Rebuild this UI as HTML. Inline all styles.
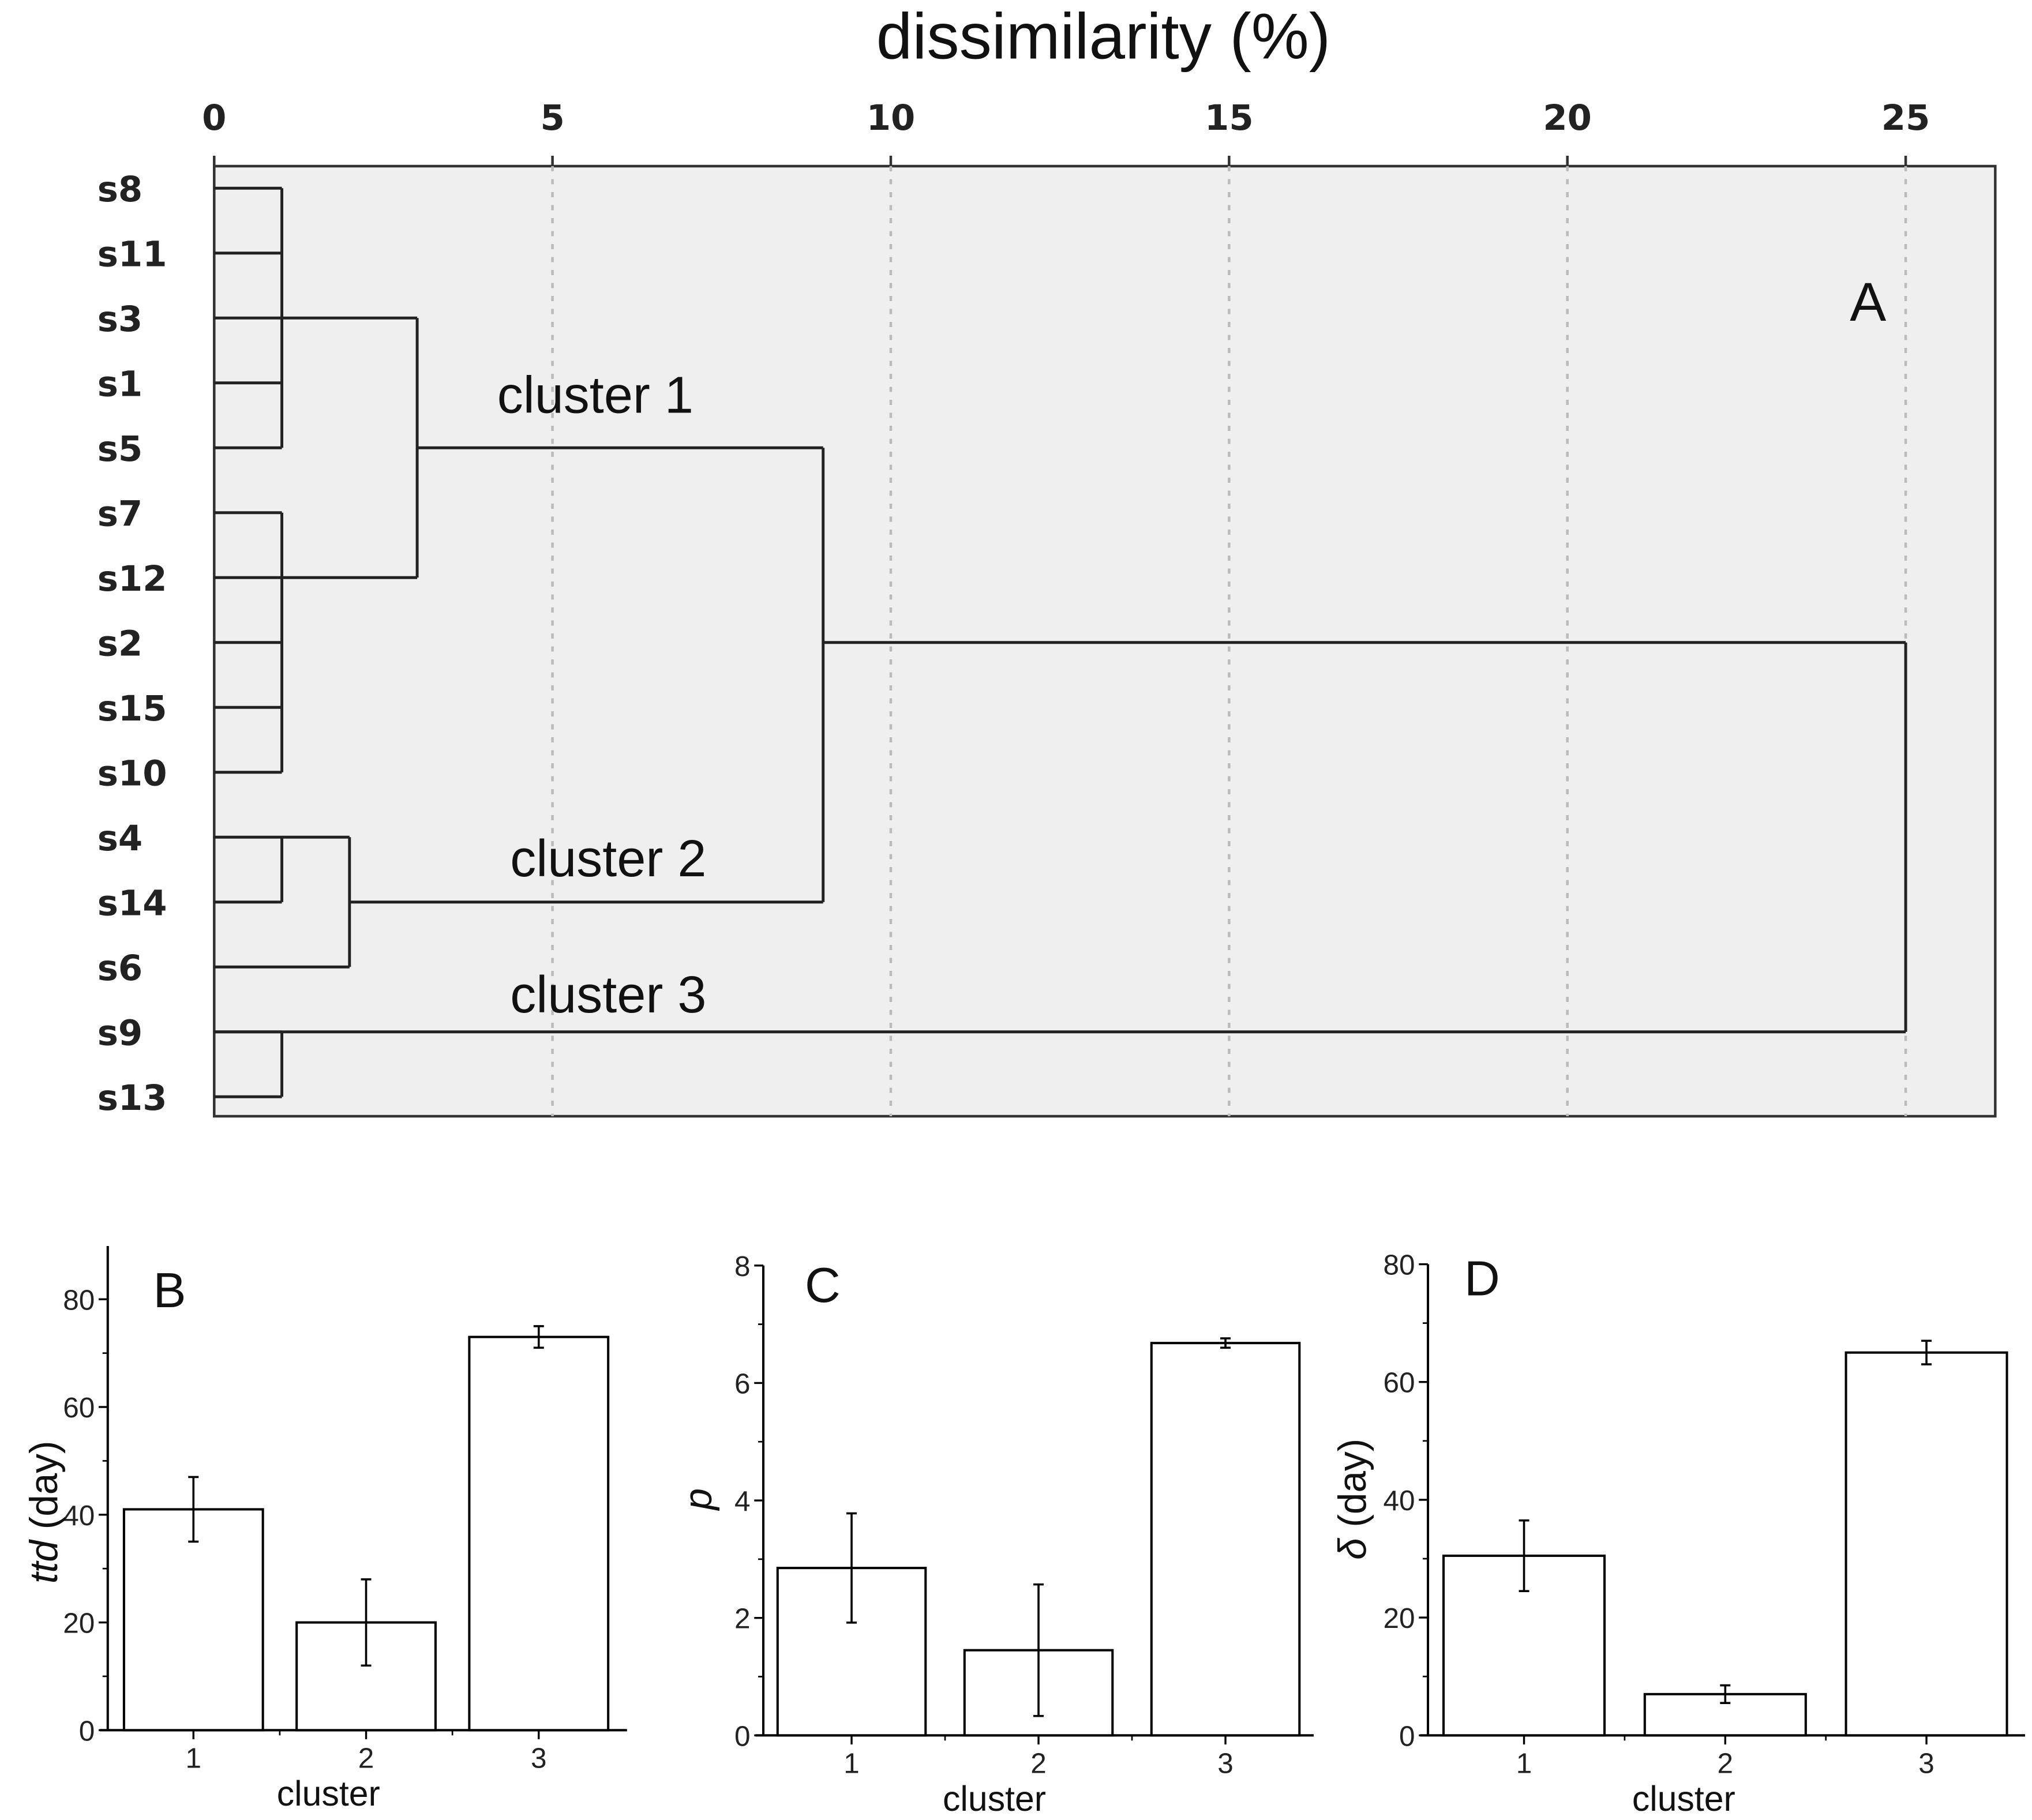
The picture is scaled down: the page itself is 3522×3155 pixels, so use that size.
<!DOCTYPE html>
<html><head><meta charset="utf-8"><style>
html,body{margin:0;padding:0;background:#fff;}
svg{display:block;}
</style></head><body>
<svg id="fig" width="3522" height="3155" viewBox="0 0 1565.3 1402.2" xmlns="http://www.w3.org/2000/svg">
<rect x="0" y="0" width="1565.3" height="1402.2" fill="#fff"/>
<g id="panelA"></g>
<g id="panelB"></g>
<g id="panelC"></g>
<g id="panelD"></g>
</svg>
<script>
// ---- Dendrogram data ----
const leafLabels = ["s8","s11","s3","s1","s5","s7","s12","s2","s15","s10","s4","s14","s6","s9","s13"];
const xTicks = [0,5,10,15,20,25];
// merges: [childA y-index (float), childB y-index, height]
const merges = [
  // [leaf-or-node positions as leaf indices, merge height]
  {members:[0,1,2,3,4], h:1},
  {members:[5,6,7,8,9], h:1},
  {members:[10,11], h:1},
  {members:[13,14], h:1}
];
const clusterJoins = [
  {a:2, ah:1, b:6, bh:1, h:3, out:4},       // cluster 1 at y-index 4
  {a:10, ah:1, b:12, bh:0, h:2, out:11},    // cluster 2 at y-index 11
  {a:4, ah:3, b:11, bh:2, h:9, out:7},      // cl1 + cl2 at y-index 7
  {a:7, ah:9, b:13, bh:0, h:25, out:null}   // with cluster 3
];
const clusterNames = ["cluster 1","cluster 2","cluster 3"];

// ---- Bar data ----
const categories = [1,2,3];
const ttdValues = [41,20,73];
const ttdErr = [6,8,2];
const pValues = [2.85,1.45,6.68];
const pErr = [0.93,1.12,0.08];
const dValues = [30.5,7,65];
const dErr = [6,1.5,2];
const ttdTicks = [0,20,40,60,80];
const pTicks = [0,2,4,6,8];
const dTicks = [0,20,40,60,80];

const NS="http://www.w3.org/2000/svg";
function mk(parent,tag,attrs,text){
  const e=document.createElementNS(NS,tag);
  for(const k in attrs) e.setAttribute(k,attrs[k]);
  if(text!==undefined) e.textContent=text;
  parent.appendChild(e); return e;
}

// ---- Panel A ----
(function(){
  const g=document.getElementById('panelA');
  const x0=165, x25=1468, left=165, right=1537, top=128, bottom=860;
  const X=v=>x0+(x25-x0)*v/25;
  const Y=i=>145+i*50;
  const bg=mk(g,'rect',{x:left,y:top,width:right-left,height:bottom-top,fill:'#efefef',stroke:'#333','stroke-width':2});
  
  
  xTicks.forEach(t=>{
    if(t>0){
      const gl=mk(g,'line',{x1:X(t),x2:X(t),y1:top,y2:bottom,stroke:'#bbb','stroke-width':2,'stroke-dasharray':'4,6'});
      
      
    }
    const tk=mk(g,'line',{x1:X(t),x2:X(t),y1:top-8,y2:top,stroke:'#333','stroke-width':2});
    
    
    const tl=mk(g,'text',{x:X(t),y:100,'text-anchor':'middle','font-family':'DejaVu Sans, sans-serif','font-weight':'bold','font-size':27,fill:'#222'},String(t));
    
    
  });
  const title=mk(g,'text',{x:850,y:45,'text-anchor':'middle','font-family':'Liberation Sans, sans-serif','font-size':50,fill:'#111'},'dissimilarity (%)');
  
  
  leafLabels.forEach((s,i)=>{
    const t=mk(g,'text',{x:75,y:Y(i)+10,'font-family':'DejaVu Sans, sans-serif','font-weight':'bold','font-size':27,fill:'#222'},s);
    
    
  });
  const st={stroke:'#222','stroke-width':2.2,fill:'none'};
  function line(x1,y1,x2,y2,name){
    const l=mk(g,'line',Object.assign({x1,y1,x2,y2},st));
    
    
  }
  merges.forEach((m,k)=>{
    m.members.forEach(i=>line(X(0),Y(i),X(m.h),Y(i),'leaf-branch-'+leafLabels[i]));
    line(X(m.h),Y(m.members[0]),X(m.h),Y(m.members[m.members.length-1]),'merge-link-'+k);
  });
  line(X(0),Y(12),X(0),Y(12),'leaf-branch-s6');
  clusterJoins.forEach((c,k)=>{
    line(X(c.ah),Y(c.a),X(c.h),Y(c.a),'join-arm-a-'+k);
    line(X(c.bh),Y(c.b),X(c.h),Y(c.b),'join-arm-b-'+k);
    line(X(c.h),Y(c.a),X(c.h),Y(c.b),'join-link-'+k);
  });
  const cl=[[383,318],[393,675],[393,780]];
  clusterNames.forEach((n,i)=>{
    const t=mk(g,'text',{x:cl[i][0],y:cl[i][1],'font-family':'Liberation Sans, sans-serif','font-size':40,fill:'#111'},n);
    
    
  });
  const A=mk(g,'text',{x:1425,y:247,'font-family':'Liberation Sans, sans-serif','font-size':42,fill:'#111'},'A');
  
  
})();

// ---- Bar panels ----
function barPanel(id,cfg){
  const g=document.getElementById(id);
  const Y=v=>cfg.y0-(cfg.y0-cfg.yTop)*v/cfg.vmax;
  const ax=mk(g,'line',{x1:cfg.ax,x2:cfg.ax,y1:cfg.axTop,y2:cfg.y0,stroke:'#000','stroke-width':1.8});
  
  
  const xa=mk(g,'line',{x1:cfg.ax-6,x2:cfg.axEnd,y1:cfg.y0,y2:cfg.y0,stroke:'#000','stroke-width':1.8});
  
  
  cfg.ticks.forEach((t,i)=>{
    const tk=mk(g,'line',{x1:cfg.ax-7,x2:cfg.ax,y1:Y(t),y2:Y(t),stroke:'#000','stroke-width':1.5});
    
    
    const tl=mk(g,'text',{x:cfg.ax-10,y:Y(t)+8,'text-anchor':'end','font-family':'Liberation Sans, sans-serif','font-size':22,fill:'#222'},String(t));
    
    
    if(i<cfg.ticks.length-1){
      const m=(t+cfg.ticks[i+1])/2;
      const mt=mk(g,'line',{x1:cfg.ax-4,x2:cfg.ax,y1:Y(m),y2:Y(m),stroke:'#000','stroke-width':1.2});
      
      
    }
  });
  const bw=cfg.bw, step=cfg.step;
  categories.forEach((c,i)=>{
    const cx=cfg.c1+step*i;
    const v=cfg.vals[i], e=cfg.errs[i];
    const r=mk(g,'rect',{x:cx-bw/2,y:Y(v),width:bw,height:cfg.y0-Y(v),fill:'#fff',stroke:'#000','stroke-width':1.8});
    
    
    const eb=mk(g,'path',{d:`M${cx},${Y(v+e)}V${Y(v-e)}M${cx-4},${Y(v+e)}H${cx+4}M${cx-4},${Y(v-e)}H${cx+4}`,stroke:'#000','stroke-width':1.6,fill:'none'});
    
    
    const tk=mk(g,'line',{x1:cx,x2:cx,y1:cfg.y0,y2:cfg.y0+7,stroke:'#000','stroke-width':1.5});
    
    
    const tl=mk(g,'text',{x:cx,y:cfg.y0+29,'text-anchor':'middle','font-family':'Liberation Sans, sans-serif','font-size':22,fill:'#222'},String(c));
    
    
    if(i<categories.length-1){
      const mt=mk(g,'line',{x1:cx+step/2,x2:cx+step/2,y1:cfg.y0,y2:cfg.y0+4,stroke:'#000','stroke-width':1.2});
      
      
    }
  });
  const xt=mk(g,'text',{x:cfg.xtX,y:cfg.y0+58,'text-anchor':'middle','font-family':'Liberation Sans, sans-serif','font-size':27,fill:'#111'},'cluster');
  
  
  const pl=mk(g,'text',{x:cfg.lab[0],y:cfg.lab[1],'font-family':'Liberation Sans, sans-serif','font-size':38,fill:'#111'},cfg.letter);
  
  
  const yt=mk(g,'text',{x:0,y:0,transform:`translate(${cfg.ytX},${cfg.ytY}) rotate(-90)`,'text-anchor':'middle','font-family':'Liberation Sans, DejaVu Sans, sans-serif','font-size':30,fill:'#111'});
  
  
  const a=mk(yt,'tspan',{'font-style':'italic'},cfg.yItal);
  if(cfg.yRest) mk(yt,'tspan',{},cfg.yRest);
}
barPanel('panelB',{ax:83,axTop:960,y0:1333,yTop:1001,vmax:80,ticks:ttdTicks,axEnd:483,bw:107,step:133,c1:149,vals:ttdValues,errs:ttdErr,xtX:253,lab:[118,1007],letter:'B',ytX:44,ytY:1165,yItal:'ttd',yRest:' (day)'});
barPanel('panelC',{ax:588,axTop:975,y0:1337,yTop:975,vmax:8,ticks:pTicks,axEnd:1012,bw:114,step:144,c1:656,vals:pValues,errs:pErr,xtX:766,lab:[620,1003],letter:'C',ytX:548,ytY:1155,yItal:'p',yRest:''});
barPanel('panelD',{ax:1100,axTop:974,y0:1337,yTop:974,vmax:80,ticks:dTicks,axEnd:1560,bw:124,step:155,c1:1174,vals:dValues,errs:dErr,xtX:1297,lab:[1128,998],letter:'D',ytX:1052,ytY:1155,yItal:'δ',yRest:' (day)'});
</script>
</body></html>
